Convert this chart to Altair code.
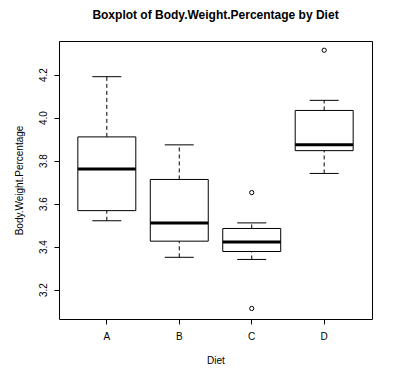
import altair as alt
import pandas as pd

diet = ["A", "B", "C", "D"]
lower_whisker = [3.52, 3.35, 3.34, 3.74]
q1 = [3.567, 3.425, 3.377, 3.846]
median = [3.761, 3.51, 3.421, 3.873]
q3 = [3.91, 3.712, 3.484, 4.033]
upper_whisker = [4.19, 3.873, 3.51, 4.08]

outlier_diet = ["C", "C", "D"]
outlier_value = [3.651, 3.112, 4.313]

y_ticks = [3.2, 3.4, 3.6, 3.8, 4.0, 4.2]

FONT = "Liberation Sans"

stats = pd.DataFrame({
    "Diet": diet, "lo": lower_whisker, "q1": q1, "med": median,
    "q3": q3, "hi": upper_whisker,
})
outliers = pd.DataFrame({"Diet": outlier_diet, "v": outlier_value})

xscale = alt.Scale(type="band", domain=diet, paddingInner=0.2, paddingOuter=0.26)
yscale = alt.Scale(domain=[3.063, 4.356], nice=False, zero=False)

x_enc = alt.X(
    "Diet:N", scale=xscale, title="Diet",
    axis=alt.Axis(
        labelAngle=0, labelFont=FONT, labelFontSize=10, labelColor="black",
        tickColor="black", tickSize=5, labelPadding=7, domain=False,
        titleFont=FONT, titleFontSize=10, titleFontWeight="normal",
        titleColor="black", titlePadding=14,
    ),
)
y_axis = alt.Axis(
    values=y_ticks, format=".1f", labelAngle=-90, labelAlign="center",
    labelBaseline="bottom", labelFont=FONT, labelFontSize=10,
    labelColor="black", tickColor="black", tickSize=5, labelPadding=6,
    domain=False, grid=False, titleFont=FONT, titleFontSize=10,
    titleFontWeight="normal", titleColor="black", titlePadding=14,
)

base = alt.Chart(stats).encode(x=x_enc)

upper_dash = base.mark_rule(color="black", strokeWidth=1, strokeDash=[4, 3]).encode(
    y=alt.Y("q3:Q", scale=yscale, axis=y_axis, title="Body.Weight.Percentage"),
    y2="hi:Q",
)
lower_dash = base.mark_rule(color="black", strokeWidth=1, strokeDash=[4, 3]).encode(
    y=alt.Y("lo:Q", scale=yscale), y2="q1:Q",
)
box = base.mark_bar(fill="white", stroke="black", strokeWidth=1, opacity=1).encode(
    y=alt.Y("q1:Q", scale=yscale), y2="q3:Q",
)
med = base.mark_tick(color="black", thickness=3, size=58, opacity=1).encode(
    y=alt.Y("med:Q", scale=yscale),
)
cap_hi = base.mark_tick(color="black", thickness=1, size=29, opacity=1).encode(
    y=alt.Y("hi:Q", scale=yscale),
)
cap_lo = base.mark_tick(color="black", thickness=1, size=29, opacity=1).encode(
    y=alt.Y("lo:Q", scale=yscale),
)
pts = alt.Chart(outliers).mark_point(
    shape="circle", filled=False, color="black", size=18, strokeWidth=1, opacity=1
).encode(
    x=alt.X("Diet:N", scale=xscale),
    y=alt.Y("v:Q", scale=yscale),
)

chart = alt.layer(upper_dash, lower_dash, box, med, cap_hi, cap_lo, pts).properties(
    width=313, height=278,
    title=alt.TitleParams(
        "Boxplot of Body.Weight.Percentage by Diet", font=FONT, fontSize=12,
        fontWeight="bold", color="black", anchor="middle", offset=19,
    ),
    autosize=alt.AutoSizeParams(type="none"),
    padding={"left": 59, "top": 41, "right": 34, "bottom": 56},
    background="white",
).configure_view(stroke="black", strokeWidth=1)

chart.save("out.html", embed_options={"renderer": "svg", "actions": False})
